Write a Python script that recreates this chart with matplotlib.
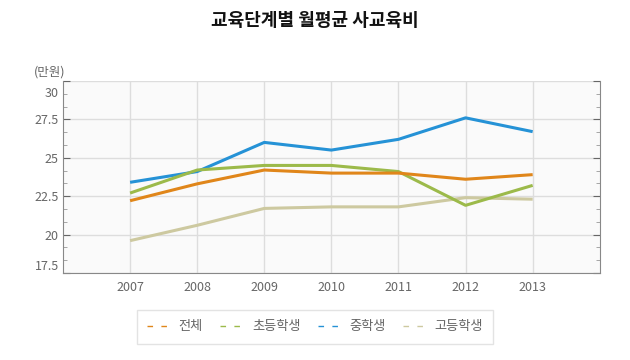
import matplotlib
matplotlib.use("Agg")
import matplotlib.pyplot as plt
from matplotlib.ticker import MultipleLocator
from matplotlib.lines import Line2D
from matplotlib.transforms import ScaledTranslation

plt.rcParams['font.family'] = ['Noto Sans CJK KR', 'DejaVu Sans']

years = [2007, 2008, 2009, 2010, 2011, 2012, 2013]
total = [22.2, 23.3, 24.2, 24.0, 24.0, 23.6, 23.9]
elementary = [22.7, 24.2, 24.5, 24.5, 24.1, 21.9, 23.2]
middle = [23.4, 24.1, 26.0, 25.5, 26.2, 27.6, 26.7]
high = [19.6, 20.6, 21.7, 21.8, 21.8, 22.4, 22.3]

names = ['전체', '초등학생', '중학생', '고등학생']
colors = ['#e0861a', '#9cba4a', '#2592d6', '#cdc9a0']
series = [total, elementary, middle, high]
yticks = [17.5, 20, 22.5, 25, 27.5, 30]
ytick_labels = ['17.5', '20', '22.5', '25', '27.5', '30']

fig = plt.figure(figsize=(6.3, 3.6), dpi=100)
ax = fig.add_axes([0.1, 0.242, 0.852, 0.533])
ax.set_facecolor('#fafafa')

# draw high school first so the others sit on top
for vals, c in list(zip(series, colors))[::-1]:
    ax.plot(years, vals, color=c, lw=2.2, solid_capstyle='butt', zorder=3)

ax.set_xlim(2006, 2014)
ax.set_ylim(17.5, 30)
ax.set_xticks(years)
ax.set_xticklabels([str(y) for y in years])
ax.set_yticks(yticks)
ax.set_yticklabels(ytick_labels)
ax.yaxis.set_minor_locator(MultipleLocator(2.5 / 3))
ax.grid(True, color='#dddddd', lw=1, zorder=0)
ax.tick_params(axis='x', length=0, labelsize=9, colors='#666666', pad=6)
ax.tick_params(axis='y', which='major', length=5, direction='in', labelsize=9,
               colors='#666666', right=True, pad=3)
ax.tick_params(axis='y', which='minor', length=3, direction='in', colors='#999999', right=True)
for s in ['left', 'bottom', 'right']:
    ax.spines[s].set_color('#888888')
ax.spines['top'].set_visible(False)

# keep the end labels inside the plot area
for lab in ax.get_yticklabels():
    if lab.get_text() == '30':
        lab.set_transform(lab.get_transform() + ScaledTranslation(0, -8 / 72, fig.dpi_scale_trans))
    elif lab.get_text() == '17.5':
        lab.set_transform(lab.get_transform() + ScaledTranslation(0, 6 / 72, fig.dpi_scale_trans))

fig.text(0.5, 0.943, '교육단계별 월평균 사교육비', ha='center', va='center',
         fontsize=13, fontweight='bold', color='#111111')
fig.text(0.053, 0.8, '(만원)', ha='left', va='center', fontsize=9, color='#666666')

handles = [Line2D([0], [0], color=c, lw=1, ls=(0, (4, 6))) for c in colors]
leg = fig.legend(handles, names, loc='center', bbox_to_anchor=(0.5, 0.092), ncol=4,
                 frameon=True, fontsize=9.5, handlelength=1.7, handletextpad=0.7,
                 columnspacing=1.3, fancybox=False, borderpad=0.8)
leg.get_frame().set_edgecolor('#dddddd')
for t in leg.get_texts():
    t.set_color('#666666')

fig.savefig('out.png', dpi=100, facecolor='white')
